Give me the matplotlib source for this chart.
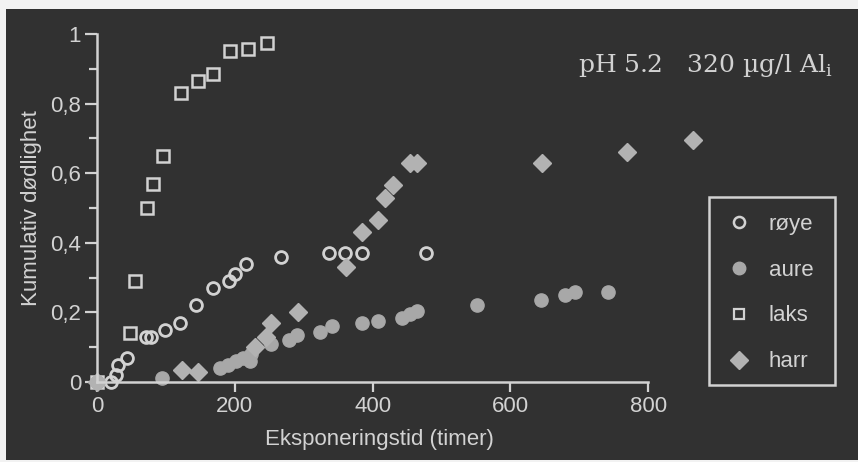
import matplotlib.pyplot as plt
from matplotlib.lines import Line2D
from matplotlib.patches import Rectangle

# Data (hours, cumulative mortality)
roye_x = [20, 27, 31, 44, 71, 79, 99, 120, 144, 169, 192, 200, 216, 267, 337, 360, 384, 477]
roye_y = [0, 0.02, 0.05, 0.07, 0.13, 0.13, 0.15, 0.17, 0.22, 0.27, 0.29, 0.31, 0.34, 0.36,
          0.37, 0.37, 0.37, 0.37]

aure_x = [0, 94, 178, 190, 202, 212, 222, 224, 253, 278, 290, 324, 341, 384, 408, 442, 454,
          465, 552, 644, 680, 694, 742]
aure_y = [0, 0.01, 0.04, 0.05, 0.06, 0.07, 0.06, 0.08, 0.11, 0.12, 0.135, 0.145, 0.16, 0.17,
          0.175, 0.185, 0.195, 0.205, 0.22, 0.235, 0.25, 0.26, 0.26]

laks_x = [0, 48, 55, 72, 81, 96, 122, 147, 168, 193, 219, 247]
laks_y = [0, 0.14, 0.29, 0.5, 0.57, 0.65, 0.83, 0.865, 0.885, 0.95, 0.957, 0.975]

harr_x = [0, 123, 147, 229, 245, 253, 292, 361, 384, 408, 418, 430, 455, 465, 646, 769, 865]
harr_y = [0, 0.035, 0.03, 0.1, 0.13, 0.17, 0.2, 0.33, 0.43, 0.465, 0.53, 0.565, 0.63, 0.63,
          0.63, 0.66, 0.695]

xticks = [0, 200, 400, 600, 800]
yticks = [0, 0.2, 0.4, 0.6, 0.8, 1]
ytick_labels = ['0', '0,2', '0,4', '0,6', '0,8', '1']

plt.rcParams['font.family'] = ['Liberation Sans', 'DejaVu Sans']

bg = '#313131'
fg = '#d2d2d2'
mk = '#a8a8a8'
dm = '#b2b2b2'

W, H = 858, 462
fig = plt.figure(figsize=(W / 100, H / 100), dpi=100, facecolor=bg)
ax = fig.add_axes([0.097, 0.1431, 0.7387, 0.8134], facecolor='none')

ax.plot(laks_x, laks_y, 's', ms=8, mfc='none', mec=fg, mew=1.8, label='laks')
ax.plot(roye_x, roye_y, 'o', ms=8.5, mfc='none', mec=fg, mew=2, label='røye')
ax.plot(aure_x, aure_y, 'o', ms=9.5, mfc=mk, mec=mk, label='aure')
ax.plot(harr_x, harr_y, 'D', ms=9, mfc=dm, mec=dm, label='harr')

ax.set_xlim(-20, 900)
ax.set_ylim(-0.04, 1.04)

for s in ['top', 'right']:
    ax.spines[s].set_visible(False)
for s in ['left', 'bottom']:
    ax.spines[s].set_position(('data', 0))
    ax.spines[s].set_color(fg)
    ax.spines[s].set_linewidth(1.8)
ax.spines['left'].set_bounds(0, 1)
ax.spines['bottom'].set_bounds(0, 800)

ax.set_xticks(xticks)
ax.set_yticks(yticks)
ax.set_yticklabels(ytick_labels)
ax.set_yticks([0.1, 0.3, 0.5, 0.7, 0.9], minor=True)
ax.tick_params(colors=fg, labelsize=16, width=1.6, direction='out', pad=3)
ax.tick_params(axis='y', length=8.5)
ax.tick_params(axis='x', length=7)
ax.tick_params(which='minor', colors=fg, width=1.6, length=6)

fig.text(379 / W, 1 - 440 / H, 'Eksponeringstid (timer)', color=fg, fontsize=16,
         ha='center', va='center')
fig.text(32 / W, 1 - 208 / H, 'Kumulativ dødlighet', color=fg, fontsize=16,
         ha='center', va='center', rotation=90)
fig.text(833 / W, 1 - 72 / H, r'pH 5.2   320 µg/l Al$_\mathregular{i}$', color=fg,
         fontsize=18, family='DejaVu Serif', ha='right', va='baseline')

handles = [
    Line2D([], [], ls='none', marker='o', ms=8, mfc='none', mec=fg, mew=1.8),
    Line2D([], [], ls='none', marker='o', ms=9, mfc=mk, mec=mk),
    Line2D([], [], ls='none', marker='s', ms=7.5, mfc='none', mec=fg, mew=1.6),
    Line2D([], [], ls='none', marker='D', ms=9, mfc=dm, mec=dm),
]
leg = fig.legend(handles, ['røye', 'aure', 'laks', 'harr'], loc='upper left',
                 bbox_to_anchor=(709 / W, 1 - 197 / H), borderaxespad=0, fontsize=16,
                 labelspacing=1.12, borderpad=0.75, handletextpad=0.75, handlelength=1.2,
                 frameon=False, labelcolor=fg)
fig.add_artist(Rectangle((709 / W, 1 - 385 / H), 126 / W, 188 / H, transform=fig.transFigure,
                         fill=False, ec=fg, lw=1.8))

# light scan margins at the top, left and bottom edges
fig.add_artist(Rectangle((0, 1 - 9 / H), 1, 9 / H, transform=fig.transFigure, fc='#f2f2f2',
                         ec='none'))
fig.add_artist(Rectangle((0, 0), 6 / W, 1, transform=fig.transFigure, fc='#f2f2f2', ec='none'))
fig.add_artist(Rectangle((0, 0), 1, 2 / H, transform=fig.transFigure, fc='#f2f2f2', ec='none'))

fig.savefig('out.png', dpi=100, facecolor=bg)
